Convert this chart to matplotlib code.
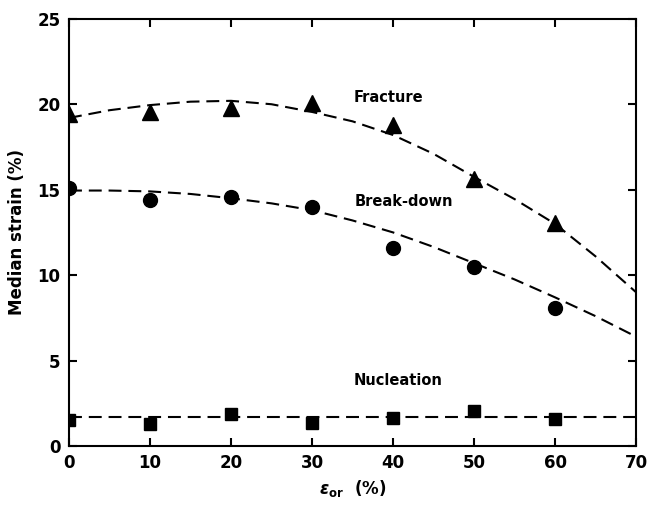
import numpy as np
from matplotlib import pyplot as plt

# measured medians
strain_or = [0, 10, 20, 30, 40, 50, 60]
fracture = [19.4, 19.55, 19.8, 20.1, 18.8, 15.6, 13.05]
breakdown = [15.1, 14.4, 14.6, 14.0, 11.6, 10.5, 8.1]
nucleation = [1.5, 1.3, 1.9, 1.35, 1.65, 2.05, 1.6]

# smoothed trend curves
curve_x = [0, 5, 10, 15, 20, 25, 30, 35, 40, 45, 50, 55, 60, 65, 70]
fracture_fit = [19.2, 19.65, 19.95, 20.15, 20.2, 20.0, 19.55, 19.0, 18.2, 17.1, 15.75, 14.45, 13.0, 11.1, 9.0]
breakdown_fit = [14.95, 14.95, 14.9, 14.75, 14.5, 14.2, 13.8, 13.2, 12.5, 11.65, 10.7, 9.75, 8.7, 7.6, 6.4]
nucleation_fit = [1.7] * len(curve_x)

plt.rcParams['font.family'] = 'DejaVu Sans'
plt.rcParams['font.weight'] = 'bold'

fig = plt.figure(figsize=(6.51, 5.08), dpi=100)
ax = fig.add_axes([0.106, 0.122, 0.871, 0.841])

line_kw = dict(color='black', lw=1.5, ls=(0, (6.2, 3.3)))
ax.plot(curve_x, fracture_fit, **line_kw)
ax.plot(curve_x, breakdown_fit, **line_kw)
ax.plot(curve_x, nucleation_fit, **line_kw)

ax.plot(strain_or, fracture, '^', color='black', ms=11)
ax.plot(strain_or, breakdown, 'o', color='black', ms=10)
ax.plot(strain_or, nucleation, 's', color='black', ms=9)

ax.text(35.1, 20.4, 'Fracture', fontsize=10.5, fontweight='bold', va='center')
ax.text(35.3, 14.3, 'Break-down', fontsize=10.5, fontweight='bold', va='center')
ax.text(35.1, 3.85, 'Nucleation', fontsize=10.5, fontweight='bold', va='center')

ax.set_xlim(0, 70)
ax.set_ylim(0, 25)
ax.set_xticks(np.arange(0, 71, 10))
ax.set_yticks(np.arange(0, 26, 5))
ax.tick_params(direction='in', length=6, width=1.5, top=True, right=True,
               labelsize=12, pad=6)
for lbl in ax.get_xticklabels() + ax.get_yticklabels():
    lbl.set_fontweight('bold')
for sp in ax.spines.values():
    sp.set_linewidth(1.5)

ax.set_xlabel(r'$\epsilon_{\mathbf{or}}$  (%)', fontsize=12, fontweight='bold', labelpad=4)
ax.set_ylabel('Median strain (%)', fontsize=12, fontweight='bold', labelpad=8)

fig.savefig('out.png', dpi=100)
